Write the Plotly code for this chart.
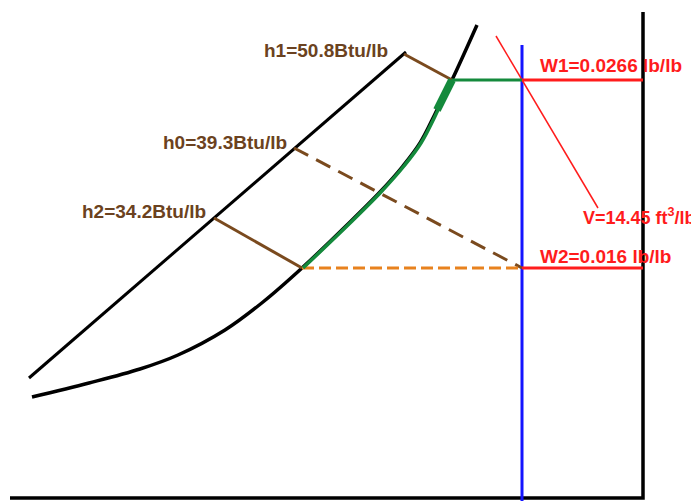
import plotly.graph_objects as go

# Schematic psychrometric chart, chart units (x to the right, y downward)
sat_x = [32, 89, 140, 178, 225, 263, 302, 347, 380, 403, 420, 437, 452, 477]
sat_y = [397, 383, 369, 355, 330, 302, 268, 225, 192, 166, 143, 110, 80, 25]

green_x = [303, 348, 381, 404, 421, 438, 452]
green_y = [268, 225, 192, 166, 143, 110, 80]

arrow_x = [437, 452]
arrow_y = [110, 80]

enth_x = [29, 406]
enth_y = [378, 52]

h_names = ["h1=50.8Btu/lb", "h0=39.3Btu/lb", "h2=34.2Btu/lb"]
h_start_x = [404, 294, 214]
h_start_y = [54, 148, 218]
h_end_x = [452, 522, 302]
h_end_y = [80, 268, 268]
h_label_x = [390, 289, 208]
h_label_y = [50, 142, 211]

state_x = 522          # dry bulb line
w_right_x = 643        # W scale line
w_vals = ["W1=0.0266 lb/lb", "W2=0.016 lb/lb"]
w_y = [80, 268]
w_label_y = [65, 256]

v_line_x = [496, 598]
v_line_y = [36, 208]
v_label = "V=14.45 ft<sup>3</sup>/lb"

frame_x = [10, 643, 643]
frame_y = [498, 498, 12]

BROWN = "#7a4a1e"
BROWN_T = "#6b4220"
RED = "#ff1c1c"
GREEN = "#148a3c"
ORANGE = "#e8821e"
BLUE = "#1414ff"

fig = go.Figure()

def line(x, y, color, width, dash="solid", shape="linear"):
    fig.add_trace(go.Scatter(x=x, y=y, mode="lines", hoverinfo="skip",
                             line=dict(color=color, width=width, dash=dash, shape=shape)))

# frame axes
line(frame_x, frame_y, "black", 3.5)
# blue vertical dry-bulb line
line([state_x, state_x], [45, 501], BLUE, 3)
# enthalpy scale line
line(enth_x, enth_y, "black", 3)
# saturation curve
line(sat_x, sat_y, "black", 3.5, shape="spline")
# enthalpy ticks
line([h_start_x[0], h_end_x[0]], [h_start_y[0], h_end_y[0]], BROWN, 3)
line([h_start_x[2], h_end_x[2]], [h_start_y[2], h_end_y[2]], BROWN, 3)
line([h_start_x[1], h_end_x[1]], [h_start_y[1], h_end_y[1]], BROWN, 3, dash="16px,9px")
# orange dashed line at W2
line([h_end_x[2], state_x], [w_y[1], w_y[1]], ORANGE, 3, dash="12px,5px")
# W lines
line([state_x, w_right_x], [w_y[0], w_y[0]], RED, 3)
line([state_x, w_right_x], [w_y[1], w_y[1]], RED, 3)
# specific volume line
line(v_line_x, v_line_y, RED, 1.5)
# green process path
line(green_x, green_y, GREEN, 3.5, shape="spline")
line(arrow_x, arrow_y, GREEN, 8)
line([452, state_x], [w_y[0], w_y[0]], GREEN, 3)

fam = "Liberation Sans, Arial, sans-serif"
anns = []
for n, lx, ly in zip(h_names, h_label_x, h_label_y):
    anns.append(dict(x=lx, y=ly, text="<b>%s</b>" % n, xanchor="right", yanchor="middle",
                     showarrow=False, font=dict(color=BROWN_T, family=fam, size=19)))
for n, ly in zip(w_vals, w_label_y):
    anns.append(dict(x=538, y=ly, text="<b>%s</b>" % n, xanchor="left", yanchor="middle",
                     showarrow=False, font=dict(color=RED, family=fam, size=19)))
anns.append(dict(x=581, y=216, text="<b>%s</b>" % v_label, xanchor="left", yanchor="middle",
                 showarrow=False, font=dict(color=RED, family=fam, size=18)))

# page body has an 8px margin: figure covers page pixels 8..699 / 8..501
fig.update_layout(
    width=691, height=493,
    margin=dict(l=0, r=0, t=0, b=0),
    paper_bgcolor="white", plot_bgcolor="white",
    showlegend=False,
    xaxis=dict(range=[8, 699], visible=False, fixedrange=True),
    yaxis=dict(range=[501, 8], visible=False, fixedrange=True),
    annotations=anns,
)

fig.write_html("out.html")
